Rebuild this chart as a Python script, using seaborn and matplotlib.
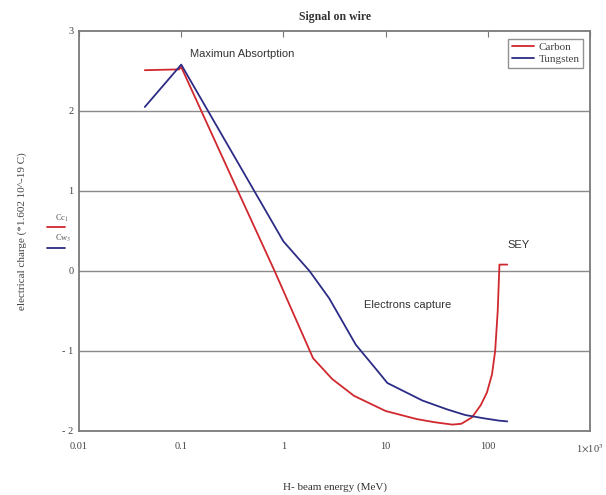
import matplotlib
matplotlib.use("Agg")
import matplotlib.pyplot as plt
import seaborn as sns
import pandas as pd
from matplotlib.lines import Line2D
from matplotlib.ticker import FixedLocator, FixedFormatter, NullLocator

# Curvas (energia em MeV, carga em unidades de e)
energia_carbono = [0.044, 0.095, 0.1, 0.33, 0.82, 1.95, 3.0, 4.9, 10, 20, 30, 45,
                   55, 70, 85, 98, 110, 118, 125, 130, 155]
carga_carbono = [2.51, 2.52, 2.55, 1.10, 0.0, -1.09, -1.35, -1.56, -1.75, -1.85, -1.89, -1.92,
                 -1.91, -1.83, -1.68, -1.52, -1.29, -1.0, -0.5, 0.08, 0.08]

energia_tungst = [0.044, 0.1, 1.0, 1.8, 2.8, 5.1, 8.6, 10.4, 23, 40, 60, 90, 128, 155]
carga_tungst = [2.05, 2.58, 0.37, 0.0, -0.34, -0.92, -1.27, -1.40, -1.62, -1.73, -1.80, -1.84, -1.87, -1.88]

xticks = [0.01, 0.1, 1, 10, 100, 1000]
xtick_labels = ["0.01", "0.1", "1", "10", "100", r"1$\times$10$^3$"]
yticks = [-2, -1, 0, 1, 2, 3]
ytick_labels = ["- 2", "- 1", "0", "1", "2", "3"]

sns.set_style("white")
plt.rcParams["font.family"] = ["Liberation Serif", "DejaVu Serif"]
plt.rcParams["mathtext.fontset"] = "stix"

vermelho = "#d0282e"
azul = "#2c2c86"

df = pd.concat([
    pd.DataFrame({"energia": energia_carbono, "carga": carga_carbono, "material": "Carbon"}),
    pd.DataFrame({"energia": energia_tungst, "carga": carga_tungst, "material": "Tungsten"}),
])

fig = plt.figure(figsize=(6.06, 4.95), dpi=100)
ax = fig.add_axes([0.1304, 0.1293, 0.8432, 0.8081])

sns.lineplot(data=df, x="energia", y="carga", hue="material", sort=False,
             palette={"Carbon": vermelho, "Tungsten": azul}, linewidth=1.3, ax=ax)

ax.set_xscale("log")
ax.set_xlim(0.01, 1000)
ax.set_ylim(-2, 3)

ax.xaxis.set_major_locator(FixedLocator(xticks))
ax.xaxis.set_major_formatter(FixedFormatter(xtick_labels))
ax.xaxis.set_minor_locator(NullLocator())
ax.yaxis.set_major_locator(FixedLocator(yticks))
ax.yaxis.set_major_formatter(FixedFormatter(ytick_labels))

ax.tick_params(axis="x", direction="in", top=True, length=4, color="#777777",
               labelsize=7.5, labelcolor="#444444", pad=8)
ax.tick_params(axis="y", direction="out", length=3, color="#777777",
               labelsize=7.5, labelcolor="#444444", pad=1)

for y in yticks[1:-1]:
    ax.axhline(y, color="#8a8a8a", linewidth=1.0, zorder=0)

for s in ax.spines.values():
    s.set_color("#7a7a7a")
    s.set_linewidth(1.3)

ax.set_title("Signal on wire", fontsize=8.5, fontweight="bold", color="#333333", pad=8)
ax.set_xlabel("")
fig.text(0.552, 1 - 487 / 495, "H- beam energy (MeV)", fontsize=8, color="#333333",
         ha="center", va="center")
ax.set_ylabel("electrical charge (*1.602 10^-19 C)", fontsize=8, color="#444444", labelpad=25)

anot = dict(family=["Liberation Sans", "DejaVu Sans"], fontsize=8, color="#333333", va="center")
ax.text(0.121, 2.71, "Maximun Absortption", **anot)
ax.text(6.17, -0.43, "Electrons capture", **anot)
ax.text(157, 0.32, "SEY", **anot)

leg = ax.legend(loc="upper right", bbox_to_anchor=(0.99, 0.985), frameon=True, fancybox=False,
                fontsize=8, handlelength=2.0, borderpad=0.3, labelspacing=0.2,
                handletextpad=0.4, borderaxespad=0.2, title=None)
leg.get_frame().set_edgecolor("#777777")
leg.get_frame().set_linewidth(1.0)
for t in leg.get_texts():
    t.set_color("#444444")

# legenda lateral (Cc1 / Cw3)
fig.text(55 / 606, 1 - 218 / 495, r"Cc$_1$", fontsize=6, color="#555555", ha="left", va="center")
fig.lines.append(Line2D([47 / 606, 65 / 606], [1 - 227 / 495, 1 - 227 / 495],
                        transform=fig.transFigure, color=vermelho, linewidth=1.3))
fig.text(55 / 606, 1 - 238 / 495, r"Cw$_3$", fontsize=6, color="#555555", ha="left", va="center")
fig.lines.append(Line2D([47 / 606, 65 / 606], [1 - 248 / 495, 1 - 248 / 495],
                        transform=fig.transFigure, color=azul, linewidth=1.3))

fig.savefig("out.png", dpi=100)
